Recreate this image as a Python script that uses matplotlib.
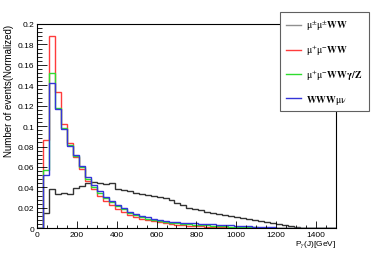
import matplotlib
matplotlib.use("Agg")
import matplotlib.pyplot as plt
import numpy as np
from matplotlib.lines import Line2D

# 50 bins of 30 GeV from 0 to 1500
bin_edges = np.arange(0, 1501, 30)

ss_ww = [0.0, 0.015, 0.038, 0.034, 0.035, 0.034, 0.039, 0.041, 0.044, 0.045,
         0.044, 0.043, 0.044, 0.038, 0.037, 0.036, 0.035, 0.034, 0.033, 0.032,
         0.031, 0.030, 0.028, 0.025, 0.023, 0.020, 0.019, 0.018, 0.016, 0.015,
         0.014, 0.013, 0.012, 0.011, 0.010, 0.009, 0.008, 0.007, 0.006, 0.005,
         0.004, 0.003, 0.002, 0.001, 0.0005, 0.0, 0.0, 0.0, 0.0, 0.0]
os_ww = [0.0, 0.086, 0.188, 0.133, 0.102, 0.083, 0.070, 0.058, 0.046, 0.0385,
         0.032, 0.027, 0.023, 0.019, 0.016, 0.013, 0.011, 0.0095, 0.0085, 0.0072,
         0.006, 0.005, 0.0042, 0.0035, 0.003, 0.0025, 0.002, 0.0018, 0.0015, 0.0012,
         0.001, 0.0008, 0.0007, 0.0006, 0.0005, 0.0004, 0.0003, 0.0002, 0.0002, 0.0001,
         0.0001, 0.0001, 0.0, 0.0, 0.0, 0.0, 0.0, 0.0, 0.0, 0.0]
os_wwgz = [0.0, 0.057, 0.152, 0.118, 0.098, 0.082, 0.071, 0.060, 0.048, 0.040,
           0.035, 0.030, 0.026, 0.022, 0.019, 0.015, 0.013, 0.011, 0.0095, 0.0085,
           0.0075, 0.0065, 0.0055, 0.005, 0.0045, 0.004, 0.0035, 0.003, 0.0027, 0.0024,
           0.002, 0.0018, 0.0015, 0.0013, 0.0011, 0.0009, 0.0008, 0.0006, 0.0005, 0.0004,
           0.0003, 0.0002, 0.0001, 0.0001, 0.0, 0.0, 0.0, 0.0, 0.0, 0.0]
www_mv = [0.0, 0.052, 0.142, 0.117, 0.097, 0.081, 0.072, 0.061, 0.050, 0.042,
          0.036, 0.031, 0.027, 0.023, 0.020, 0.016, 0.014, 0.012, 0.011, 0.0095,
          0.0085, 0.0075, 0.0065, 0.006, 0.0055, 0.005, 0.0047, 0.0044, 0.004, 0.0037,
          0.0034, 0.003, 0.0027, 0.0024, 0.002, 0.0018, 0.0016, 0.0013, 0.001, 0.0008,
          0.0006, 0.0004, 0.0003, 0.0002, 0.0001, 0.0001, 0.0, 0.0, 0.0, 0.0]

labels = [r"$\mathrm{\mu^{\pm}\mu^{\pm}}\mathbf{WW}$",
          r"$\mathrm{\mu^{+}\mu^{-}}\mathbf{WW}$",
          r"$\mathrm{\mu^{+}\mu^{-}}\mathbf{WW\gamma/Z}$",
          r"$\mathbf{WWW}\mathrm{\mu\nu}$"]
hist_colors = ["#333333", "#ff3c3c", "#2fdc2f", "#3434d8"]
legend_colors = ["#909090", "#ff3c3c", "#2fdc2f", "#3434d8"]

plt.rcParams["font.family"] = ["Liberation Sans", "DejaVu Sans"]
plt.rcParams["mathtext.fontset"] = "stix"

fig = plt.figure(figsize=(3.74, 2.55), dpi=100)
ax = fig.add_axes([0.099, 0.101, 0.799, 0.801])

for vals, c in zip([ss_ww, os_ww, os_wwgz, www_mv], hist_colors):
    ax.stairs(vals, bin_edges, color=c, lw=1.0)

ax.set_xlim(0, 1500)
ax.set_ylim(0, 0.2)
ax.set_xticks(np.arange(0, 1401, 200))
ax.set_xticks(np.arange(0, 1501, 50), minor=True)
ax.set_yticks(np.arange(0, 0.201, 0.02))
ax.set_yticks(np.arange(0, 0.201, 0.004), minor=True)
ax.set_yticklabels(["0", "0.02", "0.04", "0.06", "0.08", "0.1", "0.12",
                    "0.14", "0.16", "0.18", "0.2"])
ax.tick_params(axis="both", which="both", direction="in", labelsize=6,
               top=False, right=False, width=0.6, pad=2)
ax.tick_params(axis="y", which="major", length=7)
ax.tick_params(axis="y", which="minor", length=3.5)
ax.tick_params(axis="x", which="major", length=5)
ax.tick_params(axis="x", which="minor", length=2.5)
for s in ax.spines.values():
    s.set_linewidth(0.8)

ax.set_ylabel("Number of events(Normalized)", fontsize=7, loc="top", labelpad=3)
ax.set_xlabel(r"P$_{\gamma}$(J)[GeV]", fontsize=6, loc="right", labelpad=0)

handles = [Line2D([], [], color=c, lw=1.0) for c in legend_colors]
leg = fig.legend(handles, labels, loc="upper left",
                 bbox_to_anchor=(280 / 374, 1 - 13 / 255),
                 bbox_transform=fig.transFigure,
                 fontsize=7, frameon=True, fancybox=False, framealpha=1,
                 edgecolor="#606060", handlelength=1.6, handletextpad=0.5,
                 labelspacing=1.1, borderpad=0.6, borderaxespad=0)
leg.get_frame().set_linewidth(0.8)

fig.savefig("out.png", dpi=100)
